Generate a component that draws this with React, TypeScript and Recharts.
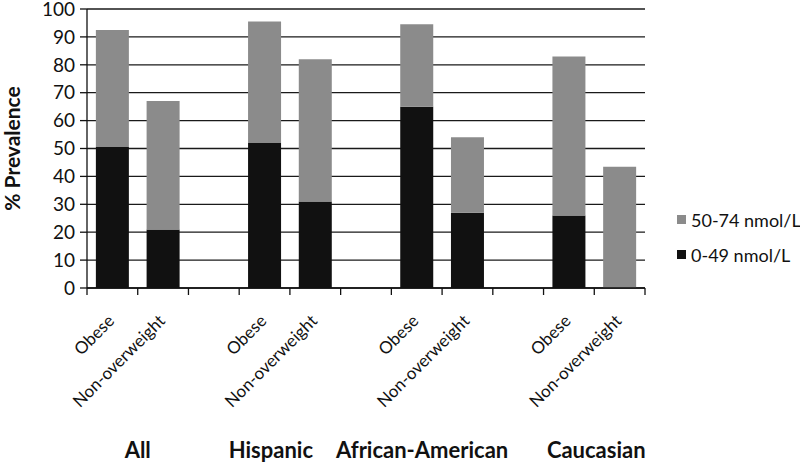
import { BarChart, Bar, XAxis, YAxis, CartesianGrid } from 'recharts';

const categories = ['Obese', 'Non-overweight', '', 'Obese', 'Non-overweight', '', 'Obese', 'Non-overweight', '', 'Obese', 'Non-overweight'];
const groupOf = ['All', 'All', '', 'Hispanic', 'Hispanic', '', 'African-American', 'African-American', '', 'Caucasian', 'Caucasian'];
const low = [50.5, 21, null, 52, 31, null, 65, 27, null, 26, 0];
const mid = [42, 46, null, 43.5, 51, null, 29.5, 27, null, 57, 43.5];
const yTicks = [0, 10, 20, 30, 40, 50, 60, 70, 80, 90, 100];
const legendItems = [
  { label: '50-74 nmol/L', color: '#8b8b8b' },
  { label: '0-49 nmol/L', color: '#111111' },
];

const data = categories.map((name, i) => ({ name, group: groupOf[i], low: low[i], mid: mid[i] }));

const FONT = 'Lato, "Noto Sans", sans-serif';
const W = 800;
const H = 463;
const Y_W = 87;
const RIGHT = 155;
const BAND = (W - Y_W - RIGHT) / categories.length;
// group titles in the source sit a little off the group centre
const groupShift: Record<string, number> = { All: 0, Hispanic: -19, 'African-American': -20, Caucasian: 2 };

function XTick(props: any) {
  const { x, y, payload } = props;
  const i = payload?.index ?? props.index;
  const half = BAND / 2;
  const label = categories[i];
  const g = groupOf[i];
  return (
    <g>
      <line x1={x - half} y1={y} x2={x - half} y2={y + 7} stroke="#111" strokeWidth={1.3} />
      {i === categories.length - 1 && (
        <line x1={x + half} y1={y} x2={x + half} y2={y + 7} stroke="#111" strokeWidth={1.3} />
      )}
      {label && (
        <text
          x={x + 3}
          y={y + 34}
          transform={`rotate(-45, ${x + 3}, ${y + 34})`}
          textAnchor="end"
          fontSize={17}
          fontFamily={FONT}
          fill="#111"
        >
          {label}
        </text>
      )}
      {label === 'Obese' && (
        <text x={x + half + (groupShift[g] || 0)} y={y + 170} textAnchor="middle" fontSize={22} fontWeight="bold" fontFamily={FONT} fill="#111">
          {g}
        </text>
      )}
    </g>
  );
}

export default function App() {
  return (
    <div style={{ position: 'absolute', left: 0, top: 0, width: W, height: H, background: '#fff' }}>
      <BarChart width={W} height={H} data={data} margin={{ top: 9, right: RIGHT, left: 0, bottom: 0 }} barCategoryGap="17.5%">
        <CartesianGrid vertical={false} stroke="#1a1a1a" strokeWidth={1.3} />
        <XAxis
          dataKey="name"
          height={175}
          interval={0}
          tickSize={0}
          tickMargin={0}
          tickLine={false}
          axisLine={{ stroke: '#111', strokeWidth: 1.3 }}
          tick={<XTick />}
          allowDuplicatedCategory
        />
        <YAxis
          width={Y_W}
          domain={[0, 100]}
          ticks={yTicks}
          interval={0}
          tickSize={7}
          tickMargin={5}
          axisLine={{ stroke: '#111', strokeWidth: 1.3 }}
          tickLine={{ stroke: '#111', strokeWidth: 1.3 }}
          tick={{ fontSize: 19, fontFamily: FONT, fill: '#111' }}
          label={{
            content: (p: any) => {
              const vb = p.viewBox;
              const cy = vb.y + vb.height / 2;
              return (
                <text x={20} y={cy} transform={`rotate(-90, 20, ${cy})`} textAnchor="middle" fontSize={21} fontWeight="bold" fontFamily={FONT} fill="#111">
                  % Prevalence
                </text>
              );
            },
          }}
        />
        <Bar dataKey="low" name="0-49 nmol/L" stackId="a" fill="#111111" isAnimationActive={false} />
        <Bar dataKey="mid" name="50-74 nmol/L" stackId="a" fill="#8b8b8b" isAnimationActive={false} />
      </BarChart>
      <div style={{ position: 'absolute', left: 677, top: 202, fontFamily: FONT, fontSize: 18, color: '#111' }}>
        {legendItems.map((it) => (
          <div key={it.label} style={{ display: 'flex', alignItems: 'center', height: 35, whiteSpace: 'nowrap' }}>
            <span style={{ display: 'inline-block', width: 9, height: 9, background: it.color, marginRight: 5 }} />
            {it.label}
          </div>
        ))}
      </div>
    </div>
  );
}
